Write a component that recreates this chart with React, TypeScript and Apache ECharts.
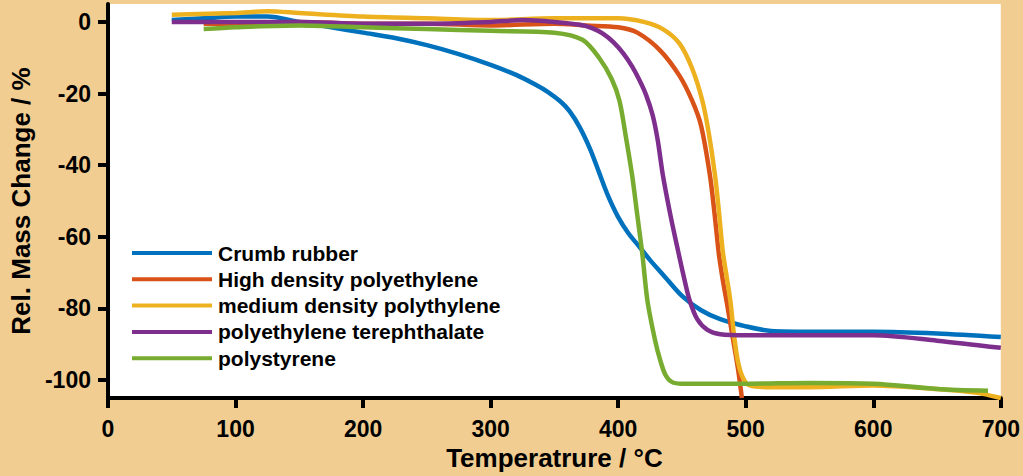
import React, { useEffect, useRef } from "react";
import * as echarts from "echarts";

const seriesNames = [
  "Crumb rubber",
  "High density polyethylene",
  "medium density polythylene",
  "polyethylene terephthalate",
  "polystyrene",
];
const seriesColors = ["#0072BD", "#D95319", "#EDB120", "#7E2F8E", "#77AC30"];

const crumbTemp = [50, 75, 100, 125, 150, 175, 200, 225, 250, 275, 300, 320, 335, 345, 355, 362, 370, 378, 385, 392, 400, 408, 416, 425, 435, 450, 465, 480, 500, 520, 550, 600, 650, 700];
const crumbMass = [0.5, 1, 1.5, 1.5, 0, -1.5, -3, -4.5, -6.5, -9, -12, -14.8, -17.5, -19.6, -22.3, -25, -29.5, -35.5, -42, -48.5, -54.5, -59, -62.5, -66.5, -70.5, -76.5, -80.5, -83, -85, -86.3, -86.5, -86.5, -87, -88];

const hdpeTemp = [75, 100, 150, 200, 250, 300, 350, 375, 400, 415, 433, 448, 458, 465, 472, 476, 479, 482, 485, 490, 494, 497];
const hdpeMass = [-0.5, -0.5, 0, -0.5, -0.5, -1, -0.5, -1, -1.5, -3, -8, -15, -22, -29, -43, -55, -65, -72, -78, -88.5, -97, -105];

const mdpeTemp = [50, 100, 125, 150, 200, 250, 300, 350, 400, 420, 435, 448, 458, 466, 471, 476, 479, 482, 485, 488, 491, 494, 498, 503, 520, 550, 600, 650, 680, 700];
const mdpeMass = [2, 2.5, 3, 2.5, 1.5, 1, 0.5, 1, 1, 0, -2, -6, -13, -22, -31, -43, -53, -64, -71, -78, -88, -95, -99.5, -101.5, -102, -102, -101.5, -102.5, -103.5, -105];

const petTemp = [50, 100, 150, 200, 250, 300, 325, 350, 370, 380, 388, 396, 404, 411, 417, 422, 427, 431, 435, 441, 447, 452, 456, 462, 470, 480, 500, 550, 600, 650, 700];
const petMass = [0, 0, 0, -0.5, -0.5, 0, 0.5, 0, -0.8, -1.8, -3.3, -5.6, -8.8, -12.5, -16.5, -20.5, -26, -33, -42.7, -54, -64, -72, -77.7, -83, -86, -87.2, -87.5, -87.5, -87.5, -89, -91];

const psTemp = [75, 100, 150, 200, 250, 300, 350, 372, 385, 395, 401, 406, 411, 415, 419, 423, 429, 433, 437, 442, 450, 500, 550, 600, 650, 690];
const psMass = [-2, -1.5, -1, -1.5, -2, -2.5, -3, -5, -10, -16, -22, -32, -43, -54, -65, -78, -89, -94.5, -98.5, -100.5, -101, -101, -100.8, -101, -102.5, -103];

const xTicks = [0, 100, 200, 300, 400, 500, 600, 700];
const yTicks = [-100, -80, -60, -40, -20, 0];

const allTemps = [crumbTemp, hdpeTemp, mdpeTemp, petTemp, psTemp];
const allMass = [crumbMass, hdpeMass, mdpeMass, petMass, psMass];

export default function App() {
  const ref = useRef<HTMLDivElement>(null);
  useEffect(() => {
    document.body.style.margin = "0";
    if (!ref.current) return;
    const chart = echarts.init(ref.current, null, { renderer: "svg" });
    const font = "Arial, 'Liberation Sans', sans-serif";
    chart.setOption({
      animation: false,
      backgroundColor: "#F1CD91",
      grid: {
        left: 108,
        right: 22,
        top: 4,
        bottom: 78,
        show: true,
        backgroundColor: "#FFFFFF",
        borderWidth: 0,
      },
      legend: {
        orient: "vertical",
        left: 132,
        top: 242,
        padding: 0,
        itemWidth: 80,
        itemHeight: 4,
        itemGap: 4.3,
        icon: "rect",
        data: seriesNames,
        textStyle: {
          fontFamily: font,
          fontWeight: "bold",
          fontSize: 21,
          lineHeight: 22,
          color: "#000",
          padding: [0, 0, 0, 1],
        },
      },
      xAxis: {
        type: "value",
        min: 0,
        max: 700,
        interval: 100,
        name: "Temperatrure / °C",
        nameLocation: "middle",
        nameGap: 47,
        nameTextStyle: { fontFamily: font, fontWeight: "bold", fontSize: 26, color: "#000" },
        axisLine: { show: true, onZero: false, lineStyle: { color: "#000", width: 4 } },
        axisTick: { show: true, length: 10, lineStyle: { color: "#000", width: 4 }, customValues: xTicks },
        axisLabel: { fontFamily: font, fontWeight: "bold", fontSize: 23, color: "#000", margin: 19, customValues: xTicks },
        splitLine: { show: false },
      },
      yAxis: {
        type: "value",
        min: -105,
        max: 5,
        name: "Rel. Mass Change / %",
        nameLocation: "middle",
        nameGap: 72,
        nameTextStyle: { fontFamily: font, fontWeight: "bold", fontSize: 26, color: "#000" },
        axisLine: { show: true, onZero: false, lineStyle: { color: "#000", width: 4 } },
        axisTick: { show: true, length: 10, lineStyle: { color: "#000", width: 4 }, customValues: yTicks },
        axisLabel: { fontFamily: font, fontWeight: "bold", fontSize: 23, color: "#000", margin: 17, customValues: yTicks },
        splitLine: { show: false },
      },
      series: seriesNames.map((name, i) => ({
        name,
        type: "line",
        data: allTemps[i].map((t, j) => [t, allMass[i][j]]),
        showSymbol: false,
        symbol: "none",
        smooth: 0.3,
        clip: true,
        color: seriesColors[i],
        lineStyle: { width: 4.5, color: seriesColors[i] },
      })),
    });
    return () => chart.dispose();
  }, []);
  return <div ref={ref} style={{ width: 1023, height: 476 }} />;
}
